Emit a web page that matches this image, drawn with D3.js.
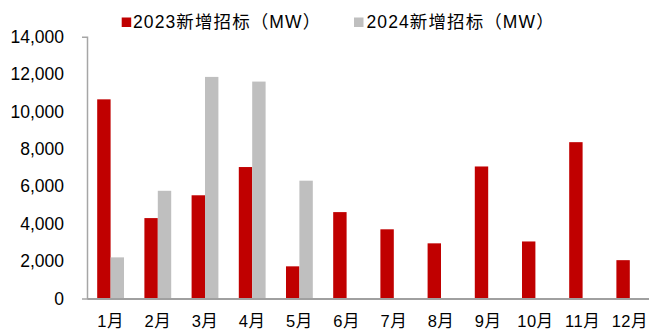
<!DOCTYPE html>
<html>
<head>
<meta charset="utf-8">
<script src="https://cdn.jsdelivr.net/npm/d3@7/dist/d3.min.js"></script>
<style>
  html, body { margin: 0; padding: 0; background: #fff; }
  svg { display: block; }
  text { font-family: "Liberation Sans", Arial, "Noto Sans CJK SC", sans-serif; fill: #000; }
</style>
</head>
<body>
<svg id="chart" width="649" height="332"></svg>
<script>
// Monthly new tender volume (MW)
const months = ["1月","2月","3月","4月","5月","6月","7月","8月","9月","10月","11月","12月"];
const seriesNames = ["2023新增招标（MW）", "2024新增招标（MW）"];
const values2023 = [10650, 4300, 5520, 7030, 1720, 4620, 3700, 2950, 7060, 3050, 8360, 2050];
const values2024 = [2200, 5760, 11850, 11600, 6300, null, null, null, null, null, null, null];
const yTicks = [0, 2000, 4000, 6000, 8000, 10000, 12000, 14000];
const colors = ["#C00000", "#BFBFBF"];

const svg = d3.select("#chart");

const x0 = d3.scaleBand()
  .domain(months)
  .range([87, 653.4])
  .paddingInner(0.432)
  .paddingOuter(0.216);

const x1 = d3.scaleBand()
  .domain([0, 1])
  .range([0, x0.bandwidth()]);

const y = d3.scaleLinear()
  .domain([0, 14000])
  .range([298.5, 36.7]);

const rows = months.map((m, i) => ({ month: m, vals: [values2023[i], values2024[i]] }));

// bars
const groups = svg.append("g")
  .selectAll("g")
  .data(rows)
  .join("g")
  .attr("transform", d => `translate(${x0(d.month)},0)`);

groups.selectAll("rect")
  .data(d => d.vals.map((v, k) => ({ k, v })).filter(e => e.v != null))
  .join("rect")
  .attr("x", e => x1(e.k))
  .attr("width", x1.bandwidth())
  .attr("y", e => y(e.v))
  .attr("height", e => y(0) - y(e.v))
  .attr("fill", e => colors[e.k]);

// y axis
const yAxis = svg.append("g")
  .attr("transform", "translate(87,0)")
  .call(d3.axisLeft(y)
    .tickValues(yTicks)
    .tickFormat(d3.format(","))
    .tickSizeInner(0)
    .tickSizeOuter(5)
    .tickPadding(23));
yAxis.select(".domain").attr("stroke", "#A6A6A6").attr("stroke-width", 1.5);
yAxis.selectAll("text").style("font-size", "17.5px").attr("fill", "#000");

// x axis
const xAxis = svg.append("g")
  .attr("transform", `translate(0,${y(0)})`)
  .call(d3.axisBottom(x0).tickSize(0).tickPadding(17));
xAxis.select(".domain").attr("stroke", "#A0A0A0").attr("stroke-width", 2);
xAxis.selectAll("text")
  .style("font-size", "16.5px")
  .style("letter-spacing", "0.5px")
  .attr("fill", "#000")
  .attr("dy", "0.71em");

// legend
const legendPos = [[121.7, 133], [354, 366.5]];
const legend = svg.append("g")
  .selectAll("g")
  .data(seriesNames)
  .join("g");
legend.append("rect")
  .attr("x", (d, i) => legendPos[i][0])
  .attr("y", 17.5)
  .attr("width", 9.5)
  .attr("height", 9.5)
  .attr("fill", (d, i) => colors[i]);
legend.append("text")
  .attr("x", (d, i) => legendPos[i][1])
  .attr("y", 27.6)
  .style("font-size", "17.5px")
  .style("letter-spacing", "1.1px")
  .text(d => d);
</script>
</body>
</html>
